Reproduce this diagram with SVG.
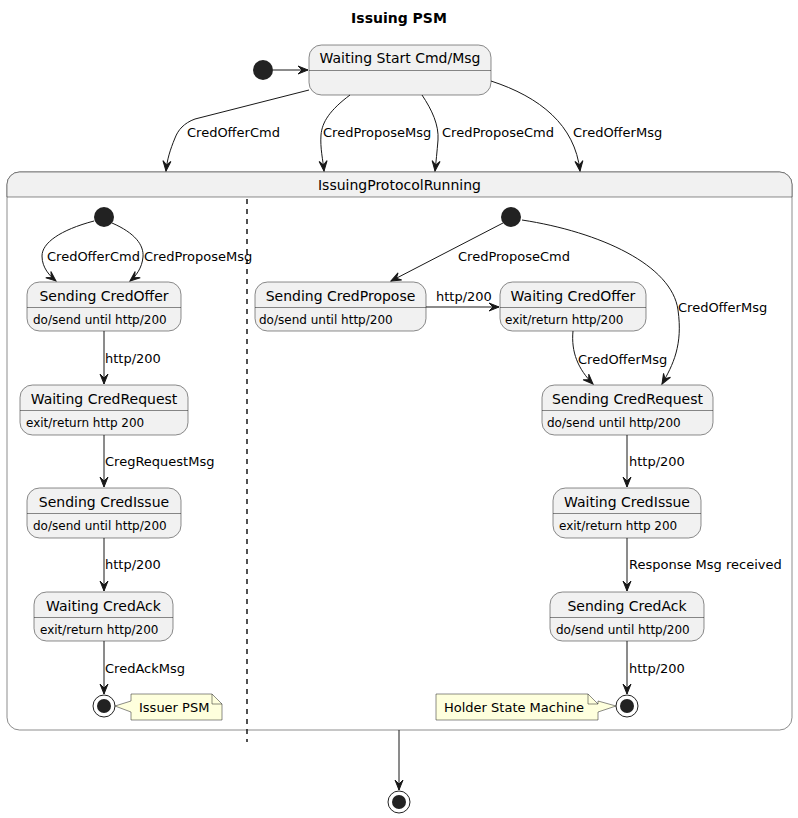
<svg xmlns="http://www.w3.org/2000/svg" width="798" height="818" viewBox="0 0 798 818">
<defs>
<marker id="ah" viewBox="-11 -5 12 10" refX="0" refY="0" markerWidth="12" markerHeight="10" orient="auto" markerUnits="userSpaceOnUse"><path d="M0,0 L-10,-4 L-6,0 L-10,4 Z" fill="#181818" stroke="#181818" stroke-width="1"/></marker>
</defs>
<style>
text{font-family:"DejaVu Sans",Verdana,sans-serif;fill:#000}
.st{fill:#F1F1F1;stroke:#181818;stroke-width:0.5}
.dv{stroke:#181818;stroke-width:0.5}
.nm{font-size:14px;text-anchor:middle}
.ds{font-size:12px}
.lb{font-size:13px}
.e{fill:none;stroke:#181818;stroke-width:1;marker-end:url(#ah)}
.ini{fill:#222222}
.note{fill:#FEFFDD;stroke:#181818;stroke-width:0.5}
</style>
<rect width="798" height="818" fill="#FFFFFF"/>
<text x="399" y="23" style="font-size:14px;font-weight:bold;text-anchor:middle">Issuing PSM</text>

<g id="start0"><circle cx="263" cy="70" r="10" class="ini"/></g>
<g id="waitingStart">
<rect x="309" y="45" width="182" height="50" rx="12.5" class="st"/>
<line x1="309" y1="70.5" x2="491" y2="70.5" class="dv"/>
<text x="400" y="63" class="nm">Waiting Start Cmd/Msg</text>
</g>

<g id="IssuingProtocolRunning">
<rect x="7" y="172" width="785" height="558" rx="12.5" class="st" style="fill:#FFFFFF"/>
<path d="M7,197 V184.5 A12.5,12.5 0 0 1 19.5,172 H779.5 A12.5,12.5 0 0 1 792,184.5 V197 Z" class="st"/>
<text x="399.5" y="190" class="nm">IssuingProtocolRunning</text>
<line x1="247" y1="199" x2="247" y2="742" stroke="#181818" stroke-width="1.5" stroke-dasharray="5,5"/>
</g>

<g id="issuerStart"><circle cx="104" cy="217" r="10" class="ini"/></g>
<g id="sendingCredOffer">
<rect x="27" y="282" width="154" height="49" rx="12.5" class="st"/>
<line x1="27" y1="307.5" x2="181" y2="307.5" class="dv"/>
<text x="104" y="301" class="nm">Sending CredOffer</text>
<text x="33" y="324" class="ds">do/send until http/200</text>
</g>
<g id="waitingCredRequest">
<rect x="20" y="385" width="168" height="50" rx="12.5" class="st"/>
<line x1="20" y1="410.5" x2="188" y2="410.5" class="dv"/>
<text x="104" y="404" class="nm">Waiting CredRequest</text>
<text x="26" y="427" class="ds">exit/return http 200</text>
</g>
<g id="sendingCredIssue">
<rect x="27" y="488" width="154" height="50" rx="12.5" class="st"/>
<line x1="27" y1="513.5" x2="181" y2="513.5" class="dv"/>
<text x="104" y="507" class="nm">Sending CredIssue</text>
<text x="33" y="530" class="ds">do/send until http/200</text>
</g>
<g id="waitingCredAck">
<rect x="34" y="592" width="139" height="49" rx="12.5" class="st"/>
<line x1="34" y1="617.5" x2="173" y2="617.5" class="dv"/>
<text x="103.5" y="611" class="nm">Waiting CredAck</text>
<text x="40" y="634" class="ds">exit/return http/200</text>
</g>
<g id="issuerEnd">
<circle cx="104" cy="706" r="11" fill="#FFFFFF" stroke="#222222" stroke-width="1"/>
<circle cx="104" cy="706" r="7" class="ini"/>
</g>
<g id="noteIssuer">
<path d="M131,694 H212 L222,704 V720 H131 V712 L115,706 L131,701 Z" class="note"/>
<path d="M212,694 V704 H222" fill="none" stroke="#181818" stroke-width="0.5"/>
<text x="139" y="711.5" class="lb">Issuer PSM</text>
</g>

<g id="holderStart"><circle cx="511" cy="217" r="10" class="ini"/></g>
<g id="sendingCredPropose">
<rect x="255" y="282" width="171" height="49" rx="12.5" class="st"/>
<line x1="255" y1="307.5" x2="426" y2="307.5" class="dv"/>
<text x="340.5" y="301" class="nm">Sending CredPropose</text>
<text x="259" y="324" class="ds">do/send until http/200</text>
</g>
<g id="waitingCredOffer">
<rect x="500" y="282" width="146" height="49" rx="12.5" class="st"/>
<line x1="500" y1="307.5" x2="646" y2="307.5" class="dv"/>
<text x="573" y="301" class="nm">Waiting CredOffer</text>
<text x="505" y="324" class="ds">exit/return http/200</text>
</g>
<g id="sendingCredRequest">
<rect x="542" y="385" width="171" height="50" rx="12.5" class="st"/>
<line x1="542" y1="410.5" x2="713" y2="410.5" class="dv"/>
<text x="627.5" y="404" class="nm">Sending CredRequest</text>
<text x="547" y="427" class="ds">do/send until http/200</text>
</g>
<g id="waitingCredIssue">
<rect x="553" y="488" width="148" height="50" rx="12.5" class="st"/>
<line x1="553" y1="513.5" x2="701" y2="513.5" class="dv"/>
<text x="627" y="507" class="nm">Waiting CredIssue</text>
<text x="559" y="530" class="ds">exit/return http 200</text>
</g>
<g id="sendingCredAck">
<rect x="550" y="592" width="154" height="49" rx="12.5" class="st"/>
<line x1="550" y1="617.5" x2="704" y2="617.5" class="dv"/>
<text x="627" y="611" class="nm">Sending CredAck</text>
<text x="556" y="634" class="ds">do/send until http/200</text>
</g>
<g id="holderEnd">
<circle cx="627" cy="706" r="11" fill="#FFFFFF" stroke="#222222" stroke-width="1"/>
<circle cx="627" cy="706" r="7" class="ini"/>
</g>
<g id="noteHolder">
<path d="M436,694 H588 L598,704 V701 L616,706 L598,712 V720 H436 Z" class="note"/>
<path d="M588,694 V704 H598" fill="none" stroke="#181818" stroke-width="0.5"/>
<text x="444" y="711.5" class="lb">Holder State Machine</text>
</g>

<g id="finalEnd">
<circle cx="399" cy="802" r="11" fill="#FFFFFF" stroke="#222222" stroke-width="1"/>
<circle cx="399" cy="802" r="7" class="ini"/>
</g>

<g id="connectors">
<path d="M273,70 H308" class="e"/>
<path d="M309,90 L195,119 C184,123 178,130 175,138 C170,150 167,160 166,171" class="e"/>
<path d="M350,95 C330,110 322,122 321,135 C320,148 323,160 324,171" class="e"/>
<path d="M422,95 C432,110 439,125 438,140 C437,152 436,162 435,171" class="e"/>
<path d="M491,81 C540,97 575,125 580,171" class="e"/>
<path d="M94,221 C60,230 42,243 42,256 C42,268 50,276 56,281" class="e"/>
<path d="M112,223 C135,233 144,245 143,257 C142,268 136,276 130,281" class="e"/>
<path d="M104,331 V384" class="e"/>
<path d="M104,435 V487" class="e"/>
<path d="M104,538 V591" class="e"/>
<path d="M104,641 V694" class="e"/>
<path d="M503,223 L391,281" class="e"/>
<path d="M522,220 C600,232 672,265 678,310 C683,345 673,365 662,384" class="e"/>
<path d="M426,307 H499" class="e"/>
<path d="M573,331 C571,352 578,369 593,384" class="e"/>
<path d="M627,435 V487" class="e"/>
<path d="M627,538 V591" class="e"/>
<path d="M627,641 V694" class="e"/>
<path d="M399,730 V790" class="e"/>
<text x="187" y="137" class="lb">CredOfferCmd</text>
<text x="323" y="137" class="lb">CredProposeMsg</text>
<text x="442" y="137" class="lb">CredProposeCmd</text>
<text x="573" y="137" class="lb">CredOfferMsg</text>
<text x="47" y="261" class="lb">CredOfferCmd</text>
<text x="144" y="261" class="lb">CredProposeMsg</text>
<text x="105" y="363" class="lb">http/200</text>
<text x="105" y="466" class="lb">CregRequestMsg</text>
<text x="105" y="569" class="lb">http/200</text>
<text x="105" y="672.5" class="lb">CredAckMsg</text>
<text x="458" y="261" class="lb">CredProposeCmd</text>
<text x="436" y="300.5" class="lb">http/200</text>
<text x="678" y="311.5" class="lb">CredOfferMsg</text>
<text x="578" y="363.5" class="lb">CredOfferMsg</text>
<text x="629" y="466" class="lb">http/200</text>
<text x="629" y="569" class="lb">Response Msg received</text>
<text x="629" y="672.5" class="lb">http/200</text>
</g>
</svg>
